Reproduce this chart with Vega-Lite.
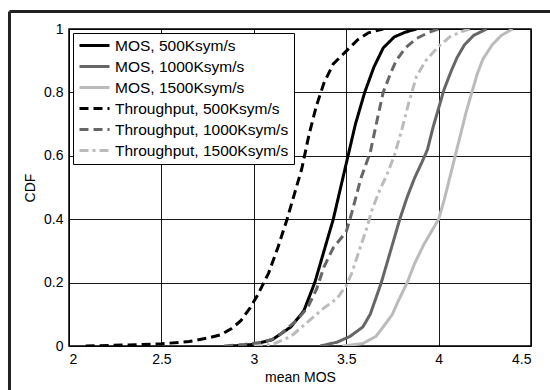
{
  "$schema": "https://vega.github.io/schema/vega-lite/v6.json",
  "width": 462,
  "height": 317,
  "autosize": "none",
  "padding": {"left": 69, "top": 29, "right": 19, "bottom": 44},
  "background": "white",
  "config": {
    "font": "Liberation Sans",
    "view": {"stroke": "black", "strokeWidth": 1.5},
    "axis": {
      "domain": false,
      "ticks": false,
      "grid": true,
      "gridColor": "#000000",
      "gridOpacity": 1,
      "gridWidth": 0.9,
      "labelFontSize": 14,
      "labelColor": "#000000",
      "labelPadding": 6,
      "titleFontSize": 14,
      "titleFontWeight": "normal",
      "titleColor": "#000000"
    },
    "legend": {
      "orient": "top-left",
      "offset": 4,
      "fillColor": "white",
      "strokeColor": "black",
      "padding": 5,
      "symbolType": "stroke",
      "symbolSize": 900,
      "symbolStrokeWidth": 3,
      "labelFontSize": 15.5,
      "labelColor": "#000000",
      "labelOffset": 4,
      "labelLimit": 300,
      "clipHeight": 15,
      "rowPadding": 5,
      "cornerRadius": 0
    }
  },
  "datasets": {
    "cdf": [
      {"series": "MOS, 500Ksym/s", "x": 2.88, "y": 0},
      {"series": "MOS, 500Ksym/s", "x": 3.0, "y": 0.005},
      {"series": "MOS, 500Ksym/s", "x": 3.1, "y": 0.02},
      {"series": "MOS, 500Ksym/s", "x": 3.2, "y": 0.06},
      {"series": "MOS, 500Ksym/s", "x": 3.27, "y": 0.11},
      {"series": "MOS, 500Ksym/s", "x": 3.33, "y": 0.2},
      {"series": "MOS, 500Ksym/s", "x": 3.38, "y": 0.3},
      {"series": "MOS, 500Ksym/s", "x": 3.43, "y": 0.4},
      {"series": "MOS, 500Ksym/s", "x": 3.47, "y": 0.5},
      {"series": "MOS, 500Ksym/s", "x": 3.51, "y": 0.6},
      {"series": "MOS, 500Ksym/s", "x": 3.55, "y": 0.7},
      {"series": "MOS, 500Ksym/s", "x": 3.6, "y": 0.8},
      {"series": "MOS, 500Ksym/s", "x": 3.65, "y": 0.88},
      {"series": "MOS, 500Ksym/s", "x": 3.7, "y": 0.94},
      {"series": "MOS, 500Ksym/s", "x": 3.76, "y": 0.975},
      {"series": "MOS, 500Ksym/s", "x": 3.82, "y": 0.99},
      {"series": "MOS, 500Ksym/s", "x": 3.88, "y": 1.0},

      {"series": "MOS, 1000Ksym/s", "x": 3.36, "y": 0},
      {"series": "MOS, 1000Ksym/s", "x": 3.45, "y": 0.012},
      {"series": "MOS, 1000Ksym/s", "x": 3.52, "y": 0.03},
      {"series": "MOS, 1000Ksym/s", "x": 3.59, "y": 0.06},
      {"series": "MOS, 1000Ksym/s", "x": 3.63, "y": 0.1},
      {"series": "MOS, 1000Ksym/s", "x": 3.66, "y": 0.15},
      {"series": "MOS, 1000Ksym/s", "x": 3.69, "y": 0.2},
      {"series": "MOS, 1000Ksym/s", "x": 3.72, "y": 0.26},
      {"series": "MOS, 1000Ksym/s", "x": 3.75, "y": 0.32},
      {"series": "MOS, 1000Ksym/s", "x": 3.79, "y": 0.4},
      {"series": "MOS, 1000Ksym/s", "x": 3.83, "y": 0.47},
      {"series": "MOS, 1000Ksym/s", "x": 3.87, "y": 0.53},
      {"series": "MOS, 1000Ksym/s", "x": 3.91, "y": 0.58},
      {"series": "MOS, 1000Ksym/s", "x": 3.94, "y": 0.62},
      {"series": "MOS, 1000Ksym/s", "x": 3.97, "y": 0.69},
      {"series": "MOS, 1000Ksym/s", "x": 4.0, "y": 0.75},
      {"series": "MOS, 1000Ksym/s", "x": 4.03, "y": 0.81},
      {"series": "MOS, 1000Ksym/s", "x": 4.07, "y": 0.87},
      {"series": "MOS, 1000Ksym/s", "x": 4.1, "y": 0.91},
      {"series": "MOS, 1000Ksym/s", "x": 4.14, "y": 0.95},
      {"series": "MOS, 1000Ksym/s", "x": 4.19, "y": 0.98},
      {"series": "MOS, 1000Ksym/s", "x": 4.26, "y": 1.0},

      {"series": "MOS, 1500Ksym/s", "x": 3.48, "y": 0},
      {"series": "MOS, 1500Ksym/s", "x": 3.59, "y": 0.008},
      {"series": "MOS, 1500Ksym/s", "x": 3.66, "y": 0.03},
      {"series": "MOS, 1500Ksym/s", "x": 3.7, "y": 0.06},
      {"series": "MOS, 1500Ksym/s", "x": 3.75, "y": 0.1},
      {"series": "MOS, 1500Ksym/s", "x": 3.78, "y": 0.14},
      {"series": "MOS, 1500Ksym/s", "x": 3.83, "y": 0.2},
      {"series": "MOS, 1500Ksym/s", "x": 3.87, "y": 0.26},
      {"series": "MOS, 1500Ksym/s", "x": 3.92, "y": 0.32},
      {"series": "MOS, 1500Ksym/s", "x": 4.0, "y": 0.4},
      {"series": "MOS, 1500Ksym/s", "x": 4.03, "y": 0.46},
      {"series": "MOS, 1500Ksym/s", "x": 4.06, "y": 0.53},
      {"series": "MOS, 1500Ksym/s", "x": 4.09, "y": 0.6},
      {"series": "MOS, 1500Ksym/s", "x": 4.12, "y": 0.67},
      {"series": "MOS, 1500Ksym/s", "x": 4.15, "y": 0.74},
      {"series": "MOS, 1500Ksym/s", "x": 4.18, "y": 0.8},
      {"series": "MOS, 1500Ksym/s", "x": 4.21, "y": 0.86},
      {"series": "MOS, 1500Ksym/s", "x": 4.24, "y": 0.905},
      {"series": "MOS, 1500Ksym/s", "x": 4.29, "y": 0.95},
      {"series": "MOS, 1500Ksym/s", "x": 4.34, "y": 0.98},
      {"series": "MOS, 1500Ksym/s", "x": 4.4, "y": 1.0},

      {"series": "Throughput, 500Ksym/s", "x": 2.09, "y": 0},
      {"series": "Throughput, 500Ksym/s", "x": 2.3, "y": 0.003},
      {"series": "Throughput, 500Ksym/s", "x": 2.5, "y": 0.007},
      {"series": "Throughput, 500Ksym/s", "x": 2.65, "y": 0.014},
      {"series": "Throughput, 500Ksym/s", "x": 2.75, "y": 0.025},
      {"series": "Throughput, 500Ksym/s", "x": 2.82, "y": 0.035},
      {"series": "Throughput, 500Ksym/s", "x": 2.88, "y": 0.055},
      {"series": "Throughput, 500Ksym/s", "x": 2.93, "y": 0.08},
      {"series": "Throughput, 500Ksym/s", "x": 2.98, "y": 0.12},
      {"series": "Throughput, 500Ksym/s", "x": 3.02, "y": 0.16},
      {"series": "Throughput, 500Ksym/s", "x": 3.08, "y": 0.23},
      {"series": "Throughput, 500Ksym/s", "x": 3.13, "y": 0.31},
      {"series": "Throughput, 500Ksym/s", "x": 3.18, "y": 0.4},
      {"series": "Throughput, 500Ksym/s", "x": 3.22, "y": 0.48},
      {"series": "Throughput, 500Ksym/s", "x": 3.26, "y": 0.56},
      {"series": "Throughput, 500Ksym/s", "x": 3.3, "y": 0.67},
      {"series": "Throughput, 500Ksym/s", "x": 3.34, "y": 0.76},
      {"series": "Throughput, 500Ksym/s", "x": 3.38, "y": 0.83},
      {"series": "Throughput, 500Ksym/s", "x": 3.43, "y": 0.89},
      {"series": "Throughput, 500Ksym/s", "x": 3.5, "y": 0.93},
      {"series": "Throughput, 500Ksym/s", "x": 3.56, "y": 0.965},
      {"series": "Throughput, 500Ksym/s", "x": 3.62, "y": 0.988},
      {"series": "Throughput, 500Ksym/s", "x": 3.7, "y": 1.0},

      {"series": "Throughput, 1000Ksym/s", "x": 2.84, "y": 0},
      {"series": "Throughput, 1000Ksym/s", "x": 2.95, "y": 0.005},
      {"series": "Throughput, 1000Ksym/s", "x": 3.05, "y": 0.012},
      {"series": "Throughput, 1000Ksym/s", "x": 3.12, "y": 0.025},
      {"series": "Throughput, 1000Ksym/s", "x": 3.17, "y": 0.05},
      {"series": "Throughput, 1000Ksym/s", "x": 3.23, "y": 0.08},
      {"series": "Throughput, 1000Ksym/s", "x": 3.29, "y": 0.12},
      {"series": "Throughput, 1000Ksym/s", "x": 3.34, "y": 0.18},
      {"series": "Throughput, 1000Ksym/s", "x": 3.38, "y": 0.25},
      {"series": "Throughput, 1000Ksym/s", "x": 3.43, "y": 0.31},
      {"series": "Throughput, 1000Ksym/s", "x": 3.5, "y": 0.36},
      {"series": "Throughput, 1000Ksym/s", "x": 3.53, "y": 0.42},
      {"series": "Throughput, 1000Ksym/s", "x": 3.58, "y": 0.53},
      {"series": "Throughput, 1000Ksym/s", "x": 3.63, "y": 0.61},
      {"series": "Throughput, 1000Ksym/s", "x": 3.67, "y": 0.72},
      {"series": "Throughput, 1000Ksym/s", "x": 3.7, "y": 0.8},
      {"series": "Throughput, 1000Ksym/s", "x": 3.74, "y": 0.86},
      {"series": "Throughput, 1000Ksym/s", "x": 3.77, "y": 0.9},
      {"series": "Throughput, 1000Ksym/s", "x": 3.82, "y": 0.94},
      {"series": "Throughput, 1000Ksym/s", "x": 3.88, "y": 0.97},
      {"series": "Throughput, 1000Ksym/s", "x": 3.95, "y": 0.99},
      {"series": "Throughput, 1000Ksym/s", "x": 4.0, "y": 1.0},

      {"series": "Throughput, 1500Ksym/s", "x": 3.0, "y": 0},
      {"series": "Throughput, 1500Ksym/s", "x": 3.1, "y": 0.005},
      {"series": "Throughput, 1500Ksym/s", "x": 3.2, "y": 0.03},
      {"series": "Throughput, 1500Ksym/s", "x": 3.3, "y": 0.08},
      {"series": "Throughput, 1500Ksym/s", "x": 3.38, "y": 0.12},
      {"series": "Throughput, 1500Ksym/s", "x": 3.45, "y": 0.15},
      {"series": "Throughput, 1500Ksym/s", "x": 3.5, "y": 0.19},
      {"series": "Throughput, 1500Ksym/s", "x": 3.53, "y": 0.23},
      {"series": "Throughput, 1500Ksym/s", "x": 3.57, "y": 0.3},
      {"series": "Throughput, 1500Ksym/s", "x": 3.61, "y": 0.37},
      {"series": "Throughput, 1500Ksym/s", "x": 3.64, "y": 0.43},
      {"series": "Throughput, 1500Ksym/s", "x": 3.68, "y": 0.49},
      {"series": "Throughput, 1500Ksym/s", "x": 3.72, "y": 0.54},
      {"series": "Throughput, 1500Ksym/s", "x": 3.76, "y": 0.6},
      {"series": "Throughput, 1500Ksym/s", "x": 3.8, "y": 0.68},
      {"series": "Throughput, 1500Ksym/s", "x": 3.84, "y": 0.77},
      {"series": "Throughput, 1500Ksym/s", "x": 3.88, "y": 0.85},
      {"series": "Throughput, 1500Ksym/s", "x": 3.93, "y": 0.9},
      {"series": "Throughput, 1500Ksym/s", "x": 4.0, "y": 0.945},
      {"series": "Throughput, 1500Ksym/s", "x": 4.06, "y": 0.975},
      {"series": "Throughput, 1500Ksym/s", "x": 4.13, "y": 0.993},
      {"series": "Throughput, 1500Ksym/s", "x": 4.17, "y": 1.0}
    ]
  },
  "layer": [
    {
      "data": {"name": "cdf"},
      "mark": {"type": "line", "strokeWidth": 3, "clip": true},
      "encoding": {
        "x": {
          "field": "x",
          "type": "quantitative",
          "scale": {"domain": [2, 4.5], "nice": false, "zero": false},
          "axis": {"title": "mean MOS", "values": [2, 2.5, 3, 3.5, 4, 4.5], "format": "~g", "titlePadding": 4}
        },
        "y": {
          "field": "y",
          "type": "quantitative",
          "scale": {"domain": [0, 1], "nice": false},
          "axis": {"title": "CDF", "values": [0, 0.2, 0.4, 0.6, 0.8, 1], "format": "~g", "titlePadding": 6}
        },
        "color": {
          "field": "series",
          "type": "nominal",
          "scale": {
            "domain": ["MOS, 500Ksym/s", "MOS, 1000Ksym/s", "MOS, 1500Ksym/s", "Throughput, 500Ksym/s", "Throughput, 1000Ksym/s", "Throughput, 1500Ksym/s"],
            "range": ["#000000", "#666666", "#bbbbbb", "#000000", "#666666", "#bbbbbb"]
          },
          "legend": {"title": null}
        },
        "strokeDash": {
          "field": "series",
          "type": "nominal",
          "scale": {
            "domain": ["MOS, 500Ksym/s", "MOS, 1000Ksym/s", "MOS, 1500Ksym/s", "Throughput, 500Ksym/s", "Throughput, 1000Ksym/s", "Throughput, 1500Ksym/s"],
            "range": [[1, 0], [1, 0], [1, 0], [9, 5], [9, 5], [9, 4, 3, 4]]
          },
          "legend": {"title": null}
        }
      }
    },
    {
      "data": {"values": [{}]},
      "mark": {"type": "rule", "color": "#222222", "strokeWidth": 3, "clip": false},
      "encoding": {
        "x": {"datum": 1.678},
        "y": {"datum": 1.055},
        "y2": {"datum": -0.2}
      }
    },
    {
      "data": {"values": [{}]},
      "mark": {"type": "rule", "color": "#222222", "strokeWidth": 3, "clip": false},
      "encoding": {
        "x": {"datum": 1.678},
        "x2": {"datum": 4.8},
        "y": {"datum": 1.055}
      }
    }
  ]
}
